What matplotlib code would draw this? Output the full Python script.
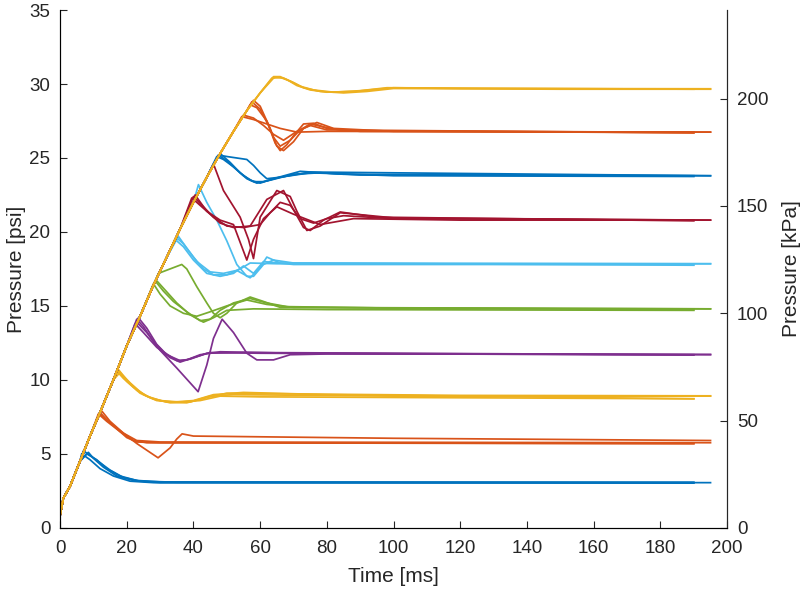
import numpy as np
import matplotlib
matplotlib.use("Agg")
import matplotlib.pyplot as plt

plt.rcParams['font.family'] = ['Liberation Sans', 'DejaVu Sans']

# shared pressure ramp (all runs overlap here)
ramp_t = [0, 1, 3, 6, 9, 12, 16, 20, 24, 28, 32, 36, 40, 44, 48, 52, 56, 60, 64]
ramp_p = [0.8, 2.0, 2.8, 4.5, 6.2, 7.8, 10.0, 12.3, 14.3, 16.4, 18.3, 20.2, 22.0, 23.7, 25.3, 26.8, 28.2, 29.4, 30.4]

# each setpoint: list of runs, (time ms, psi) after leaving the ramp
set1 = [
    ([7, 9, 12, 15, 19, 24, 35, 195], [5.2, 4.9, 4.4, 3.9, 3.4, 3.15, 3.08, 3.05]),
    ([8.5, 10, 13, 17, 22, 30, 190], [5.1, 4.7, 4.1, 3.5, 3.2, 3.05, 3.02]),
    ([6.5, 9, 12, 16, 21, 28, 190], [5.0, 4.6, 4.0, 3.5, 3.15, 3.05, 3.05]),
    ([8, 11, 14, 18, 23, 30, 190], [5.0, 4.6, 4.0, 3.5, 3.2, 3.1, 3.08]),
]
set2 = [
    ([12, 14, 17, 20, 23, 30, 190], [7.8, 7.3, 6.7, 6.1, 5.8, 5.75, 5.7]),
    ([11.5, 14, 18, 22, 26, 190], [7.7, 7.2, 6.5, 5.9, 5.75, 5.68]),
    ([12.5, 15, 19, 23, 30, 195], [7.9, 7.2, 6.4, 5.9, 5.8, 5.75]),
    ([12, 15, 19, 23, 29.4, 33, 35, 36.6, 40, 60, 100, 195],
     [7.7, 7.1, 6.4, 5.7, 4.73, 5.4, 6.0, 6.35, 6.2, 6.15, 6.05, 5.9]),
]
set3 = [
    ([17.5, 20, 23, 27, 32, 38, 44, 50, 70, 120, 195], [10.7, 10.0, 9.3, 8.8, 8.5, 8.45, 8.8, 9.1, 9.05, 8.95, 8.92]),
    ([17, 19, 22, 26, 30, 36, 42, 48, 60, 190], [10.6, 10.1, 9.5, 8.9, 8.6, 8.5, 8.6, 8.9, 8.85, 8.72]),
    ([18, 21, 25, 29, 34, 40, 46, 55, 80, 190], [10.5, 9.8, 9.0, 8.6, 8.5, 8.6, 9.0, 9.15, 9.0, 8.72]),
    ([17.5, 20, 24, 28, 33, 39, 45, 52, 100, 195], [10.6, 9.9, 9.1, 8.7, 8.45, 8.5, 8.9, 9.0, 8.9, 8.9]),
]
set4 = [
    ([23, 25, 28, 31, 35, 38, 42, 48, 70, 195], [14.1, 13.6, 12.6, 11.9, 11.3, 11.35, 11.7, 11.9, 11.8, 11.7]),
    ([22.5, 25, 29, 33, 36, 40, 45, 60, 190], [13.8, 13.2, 12.2, 11.5, 11.2, 11.5, 11.85, 11.8, 11.68]),
    ([23.5, 26, 29, 32, 36, 39, 44, 55, 190], [14.2, 13.5, 12.4, 11.7, 11.3, 11.4, 11.8, 11.85, 11.7]),
    ([23, 26, 30, 35, 41.4, 44, 46, 48.6, 52, 56, 59, 64, 69, 80, 195],
     [13.9, 13.2, 12.0, 10.8, 9.2, 11.0, 12.8, 14.1, 13.2, 11.8, 11.35, 11.35, 11.7, 11.75, 11.72]),
]
set5 = [
    ([28.5, 31, 34, 38, 42, 45, 48, 52, 57, 62, 68, 100, 195],
     [16.7, 16.0, 15.3, 14.6, 14.0, 14.1, 14.7, 15.2, 15.5, 15.2, 14.95, 14.85, 14.8]),
    ([28, 30, 33, 37, 41, 45, 50, 56, 62, 70, 190],
     [16.5, 15.8, 15.0, 14.5, 14.3, 14.6, 15.0, 15.4, 15.1, 14.9, 14.75]),
    ([29, 31, 35, 39, 43, 46, 50, 58, 80, 190],
     [16.7, 16.2, 15.2, 14.4, 13.9, 14.2, 14.7, 14.8, 14.75, 14.7]),
    ([29.5, 33, 36.5, 38, 41, 44, 46, 48, 50, 53, 57, 61, 66, 195],
     [17.2, 17.5, 17.8, 17.5, 16.3, 15.2, 14.5, 14.2, 14.5, 15.2, 15.6, 15.3, 14.9, 14.8]),
]
set6 = [
    ([35, 37, 40, 43, 46, 50, 54, 57, 65, 195], [19.6, 19.2, 18.3, 17.5, 17.1, 17.1, 17.5, 17.9, 17.85, 17.85]),
    ([34.5, 37, 40, 44, 48, 52, 55, 58, 61, 70, 190], [19.5, 19.0, 18.1, 17.2, 17.0, 17.2, 17.7, 17.2, 18.0, 17.8, 17.8]),
    ([35.5, 38, 41, 45, 49, 53, 57, 60, 62, 66, 190], [19.7, 18.9, 18.0, 17.3, 17.2, 17.4, 16.9, 17.6, 18.3, 17.9, 17.75]),
    ([41.5, 44, 47, 50, 53, 56, 58, 61, 64, 70, 195], [23.2, 22.0, 20.8, 19.4, 17.8, 17.0, 17.0, 17.8, 18.1, 17.9, 17.85]),
]
set7 = [
    ([40, 43, 46, 50, 55, 60, 63, 66, 69, 72, 76, 80, 85, 100, 195],
     [22.4, 21.7, 21.0, 20.4, 20.3, 20.5, 21.3, 22.0, 21.8, 20.9, 20.6, 20.9, 21.1, 20.9, 20.8]),
    ([39.5, 42, 45, 48, 52, 57, 62, 67, 70, 73, 75, 79, 84, 95, 190],
     [22.3, 21.8, 21.2, 20.6, 20.3, 20.4, 22.2, 22.8, 21.5, 20.3, 20.1, 20.8, 21.35, 21.0, 20.75]),
    ([40.5, 44, 48, 52, 56, 58, 61, 65, 70, 78, 88, 120, 190],
     [22.5, 21.4, 20.8, 20.5, 18.1, 19.5, 20.9, 21.7, 21.2, 20.5, 20.9, 20.8, 20.8]),
    ([46, 49, 54, 56.5, 58, 60, 65, 69, 71, 74, 78, 84, 100, 195],
     [24.6, 22.8, 21.0, 19.5, 18.2, 21.0, 22.8, 22.4, 21.4, 20.1, 20.4, 21.3, 20.95, 20.8]),
]
set8 = [
    ([47.5, 50, 53, 56, 59, 63, 70, 78, 90, 195], [25.2, 24.8, 24.2, 23.6, 23.3, 23.5, 23.9, 24.0, 23.85, 23.8]),
    ([47, 49, 52, 55, 58, 61, 66, 75, 100, 190], [25.1, 24.9, 24.4, 23.8, 23.4, 23.4, 23.7, 24.0, 23.8, 23.75]),
    ([48, 51, 54, 57, 60, 64, 72, 85, 190], [25.3, 24.7, 24.0, 23.5, 23.3, 23.6, 24.1, 23.9, 23.8]),
    ([47.5, 50, 53, 56, 58, 60, 62, 66, 75, 195], [25.2, 25.1, 25.0, 24.9, 24.5, 24.0, 23.6, 23.7, 24.05, 23.8]),
]
set9 = [
    ([57.5, 60, 62.5, 64.5, 66, 68, 70, 73, 76, 80, 90, 195],
     [28.8, 28.3, 27.2, 26.0, 25.5, 25.9, 26.5, 27.3, 27.35, 27.0, 26.8, 26.75]),
    ([57, 59, 62, 64, 66, 69, 72, 75, 79, 85, 190],
     [28.6, 28.4, 27.5, 26.4, 25.8, 26.2, 26.9, 27.3, 27.1, 26.85, 26.7]),
    ([58, 60, 63, 65, 67, 70, 73, 77, 82, 100, 190],
     [28.9, 28.5, 27.0, 25.8, 25.5, 26.1, 27.0, 27.4, 27.0, 26.8, 26.75]),
    ([54.5, 58, 62, 66, 71, 80, 195], [27.8, 27.6, 27.3, 27.0, 26.75, 26.8, 26.75]),
    ([55, 58, 61, 64, 67, 71, 75, 80, 190], [27.9, 27.7, 27.2, 26.6, 26.2, 26.8, 27.2, 26.9, 26.7]),
]
set10 = [
    ([64, 66, 68, 71, 75, 80, 88, 95, 100, 120, 195],
     [30.5, 30.5, 30.3, 29.9, 29.6, 29.45, 29.5, 29.65, 29.75, 29.7, 29.68]),
    ([64.5, 67, 70, 73, 78, 85, 92, 100, 150, 195],
     [30.45, 30.4, 30.1, 29.75, 29.5, 29.4, 29.5, 29.7, 29.65, 29.65]),
    ([63.5, 66, 69, 72, 76, 82, 90, 98, 190],
     [30.4, 30.45, 30.2, 29.85, 29.6, 29.45, 29.55, 29.75, 29.65]),
]

setpoints = [set1, set2, set3, set4, set5, set6, set7, set8, set9, set10]
colors = ['#0072BD', '#D95319', '#EDB120', '#7E2F8E', '#77AC30',
          '#4DBEEE', '#A2142F', '#0072BD', '#D95319', '#EDB120']

fig = plt.figure(figsize=(8, 5.93), dpi=100)
ax = fig.add_axes([0.075, 0.11, 0.834, 0.873])

for runs, c in zip(setpoints, colors):
    for t, p in runs:
        tt = [rt for rt in ramp_t if rt < t[0]] + list(t)
        pp = [rp for rt, rp in zip(ramp_t, ramp_p) if rt < t[0]] + list(p)
        ax.plot(tt, pp, color=c, lw=1.25)

ax.set_xlim(0, 200)
ax.set_ylim(0, 35)
ax.set_xticks(np.arange(0, 201, 20))
ax.set_yticks(np.arange(0, 36, 5))
ax.set_xlabel('Time [ms]', fontsize=15, color='#262626', labelpad=7)
ax.set_ylabel('Pressure [psi]', fontsize=15, color='#262626', labelpad=2)
ax.spines['top'].set_visible(False)
for s in ['left', 'bottom', 'right']:
    ax.spines[s].set_color('#262626')
ax.tick_params(direction='in', length=5, labelsize=13.5, colors='#262626')
ax.tick_params(axis='x', pad=9)
ax.tick_params(axis='y', pad=7)

ax2 = ax.twinx()
ax2.set_ylim(0, 35 * 6.89476)
ax2.set_yticks([0, 50, 100, 150, 200])
ax2.set_ylabel('Pressure [kPa]', fontsize=15, color='#262626', labelpad=10)
ax2.spines['top'].set_visible(False)
ax2.spines['right'].set_color('#262626')
ax2.tick_params(direction='in', length=5, labelsize=13.5, colors='#262626', pad=7)

fig.savefig('out.png', dpi=100)
